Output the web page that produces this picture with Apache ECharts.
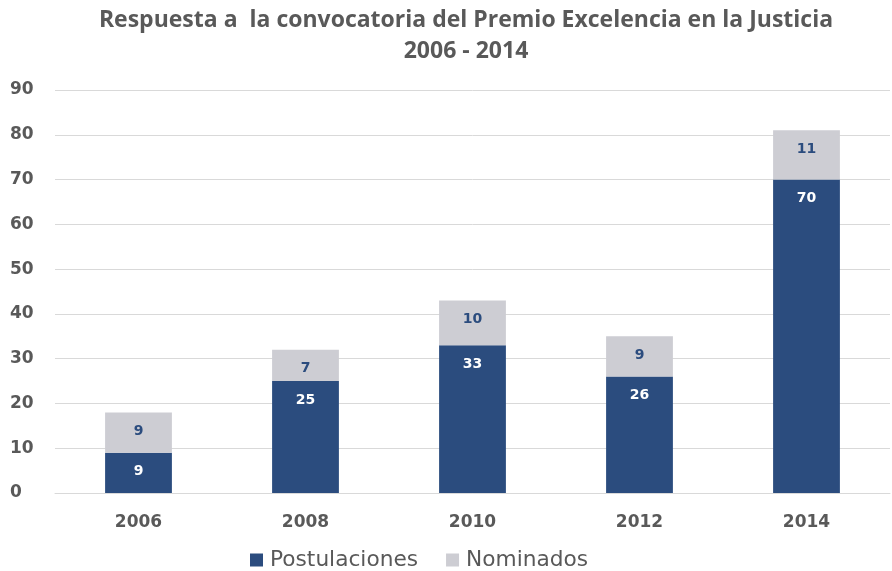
<!DOCTYPE html>
<html>
<head>
<meta charset="utf-8">
<script src="https://cdn.jsdelivr.net/npm/echarts@6/dist/echarts.min.js"></script>
<style>
  html, body { margin: 0; padding: 0; background: #fff; }
  #main { width: 892px; height: 571px; }
</style>
</head>
<body>
<div id="main"></div>
<script>
// datos
var years = ['2006', '2008', '2010', '2012', '2014'];
var postulaciones = [9, 25, 33, 26, 70];
var nominados = [9, 7, 10, 9, 11];
var yTicks = [0, 10, 20, 30, 40, 50, 60, 70, 80, 90];

var chart = echarts.init(document.getElementById('main'));

var labelFont = 'DejaVu Sans, sans-serif';

var option = {
  backgroundColor: '#ffffff',
  title: {
    text: 'Respuesta a  la convocatoria del Premio Excelencia en la Justicia\n2006 - 2014',
    left: 461,
    top: 0,
    textAlign: 'center',
    textStyle: {
      fontFamily: 'Open Sans, sans-serif',
      fontSize: 23,
      fontWeight: 'bold',
      color: '#595959',
      lineHeight: 31
    }
  },
  legend: {
    bottom: 0,
    left: 250,
    padding: 0,
    itemWidth: 13,
    itemHeight: 13,
    itemGap: 28,
    icon: 'rect',
    textStyle: {
      fontFamily: labelFont,
      fontSize: 21.7,
      color: '#595959',
      padding: [0, 0, 0, 2]
    },
    data: ['Postulaciones', 'Nominados']
  },
  grid: {
    left: 55,
    right: 2,
    top: 90,
    bottom: 78,
    outerBoundsMode: 'none',
    containLabel: false
  },
  xAxis: {
    type: 'category',
    data: years,
    axisTick: { show: false },
    axisLine: { lineStyle: { color: '#d9d9d9' } },
    axisLabel: {
      margin: 21,
      fontFamily: labelFont,
      fontSize: 17,
      fontWeight: 'bold',
      color: '#595959'
    }
  },
  yAxis: {
    type: 'value',
    min: yTicks[0],
    max: yTicks[yTicks.length - 1],
    interval: 10,
    axisLine: { show: false },
    axisTick: { show: false },
    splitLine: { lineStyle: { color: '#d9d9d9' } },
    axisLabel: {
      margin: 45,
      align: 'left',
      fontFamily: labelFont,
      fontSize: 17,
      fontWeight: 'bold',
      color: '#595959'
    }
  },
  series: [
    {
      name: 'Postulaciones',
      type: 'bar',
      stack: 'total',
      barWidth: '40%',
      data: postulaciones,
      itemStyle: { color: '#2b4c7e' },
      label: {
        show: true,
        position: 'insideTop',
        distance: 12,
        color: '#ffffff',
        fontFamily: labelFont,
        fontSize: 14,
        fontWeight: 'bold'
      }
    },
    {
      name: 'Nominados',
      type: 'bar',
      stack: 'total',
      data: nominados,
      itemStyle: { color: '#cdcdd3' },
      label: {
        show: true,
        position: 'insideTop',
        distance: 12,
        color: '#2b4c7e',
        fontFamily: labelFont,
        fontSize: 14,
        fontWeight: 'bold'
      }
    }
  ]
};

chart.setOption(option);
</script>
</body>
</html>
